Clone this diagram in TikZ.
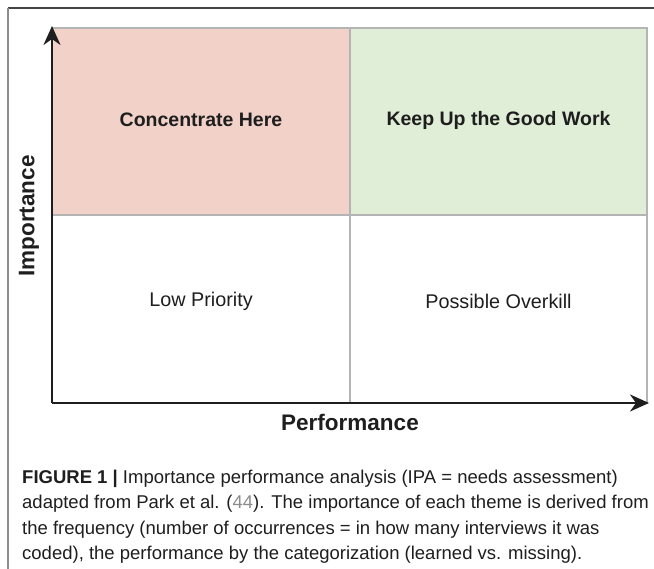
\documentclass[tikz,border=0pt]{standalone}
\usepackage{fontspec}
\setmainfont{Liberation Sans}
\usetikzlibrary{arrows.meta}
\definecolor{pinkq}{HTML}{F2D1C9}
\definecolor{greenq}{HTML}{E0EDD7}
\definecolor{divline}{HTML}{B4B4B4}
\definecolor{axiscol}{HTML}{1E1E1E}
\definecolor{framecol}{HTML}{444444}
\definecolor{leftframe}{HTML}{8C8C8C}
\definecolor{refcol}{HTML}{8C8C8C}
\begin{document}
\begin{tikzpicture}[x=1pt,y=-1pt,
  head/.style={font=\fontsize{19.5}{23}\selectfont\bfseries, text=axiscol, inner sep=0pt},
  body/.style={font=\fontsize{19.8}{23}\selectfont, text=axiscol, inner sep=0pt},
  axlabel/.style={font=\fontsize{22.5}{27}\selectfont\bfseries, text=axiscol, inner sep=0pt},
  capline/.style={font=\fontsize{18.5}{22}\selectfont, text=axiscol, anchor=base west, inner sep=0pt},
  divider/.style={draw=divline, line width=1.5pt},
  axisline/.style={draw=axiscol, line width=2pt, -{Stealth[length=19pt,width=17pt,inset=6pt]}}
]
\useasboundingbox (0,0) rectangle (654,569);
% quadrant fills
\fill[pinkq] (52,28) rectangle (350,215);
\fill[greenq] (350,28) rectangle (647,215);
% dividers
\draw[divider] (52,28) -- (647,28) -- (647,403);
\draw[divider] (350,28) -- (350,403);
\draw[divider] (52,215) -- (647,215);
% outer frame
\draw[framecol, line width=1.6pt] (8,8) -- (654,8);
\draw[leftframe, line width=1.5pt] (8,8) -- (8,569);
% axes
\coordinate (O) at (52,403);
\coordinate (Ytop) at (52,26);
\coordinate (Xend) at (649,403);
\draw[axisline] (O) -- (Ytop);
\draw[axisline] (O) -- (Xend);
% quadrant labels
\node[head] (q1) at (201,120) {Concentrate Here};
\node[head] (q2) at (498.5,120) {Keep Up the Good Work};
\node[body] (q3) at (201,301) {Low Priority};
\node[body] (q4) at (498.5,301) {Possible Overkill};
% axis labels
\node[axlabel, rotate=90] (ylab) at (29,216) {Importance};
\node[axlabel] (xlab) at (350,422) {Performance};
% caption
\node[capline] (cap1) at (22,483) {\textbf{FIGURE 1 |} Importance performance analysis (IPA = needs assessment)};
\node[capline] (cap2) at (22,508.5) {adapted from Park et al. ({\color{refcol}44}). The importance of each theme is derived from};
\node[capline] (cap3) at (22,534) {the frequency (number of occurrences = in how many interviews it was};
\node[capline] (cap4) at (22,559.5) {coded), the performance by the categorization (learned vs. missing).};
\end{tikzpicture}
\end{document}
